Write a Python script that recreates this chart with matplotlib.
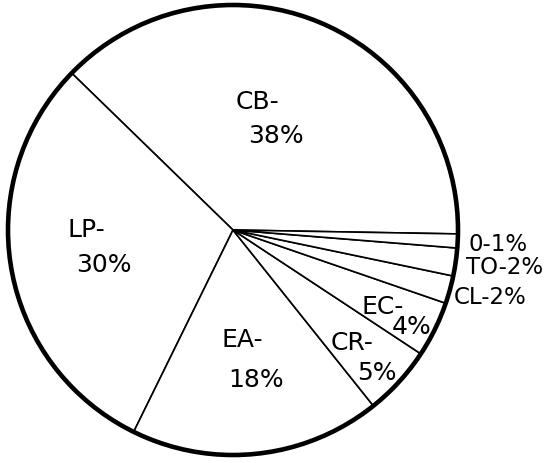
import matplotlib.pyplot as plt
from matplotlib.patches import Circle

# 数据
labels = ['CB', 'LP', 'EA', 'CR', 'EC', 'CL', 'TO', '0']
shares = [38, 30, 18, 5, 4, 2, 2, 1]

# label text positions (pixel coords, y from top)
inside = {'CB': ((236, 102), (248, 136)),
          'LP': ((68, 230), (76, 265)),
          'EA': ((221, 340), (228, 380)),
          'CR': ((331, 343), (357, 373)),
          'EC': ((362, 307), (392, 327))}
outside = {'0': (468, 245), 'TO': (466, 268), 'CL': (454, 298)}

W, H = 547, 464
cx, cy, r = 233, 231, 225

fig = plt.figure(figsize=(W / 100, H / 100), dpi=100)
ax = fig.add_axes([0, 0, 1, 1])

ax.pie(shares, startangle=-1, counterclock=True, center=(cx, H - cy), radius=r,
       colors=['white'] * len(shares),
       wedgeprops=dict(edgecolor='black', linewidth=1.2), frame=True)
ax.set_xlim(0, W)
ax.set_ylim(0, H)
ax.set_aspect('equal')
ax.axis('off')
# 外圈粗线
ax.add_patch(Circle((cx, H - cy), r, fill=False, edgecolor='black', linewidth=3.3, zorder=5))

fs = 18
for lab, pct in zip(labels, shares):
    if lab in inside:
        (x1, y1), (x2, y2) = inside[lab]
        ax.text(x1, H - y1, lab + '-', fontsize=fs, ha='left', va='center')
        ax.text(x2, H - y2, f'{pct}%', fontsize=fs, ha='left', va='center')
    else:
        x, y = outside[lab]
        ax.text(x, H - y, f'{lab}-{pct}%', fontsize=fs - 1.5, ha='left', va='center')

plt.savefig('out.png', dpi=100, facecolor='white')
